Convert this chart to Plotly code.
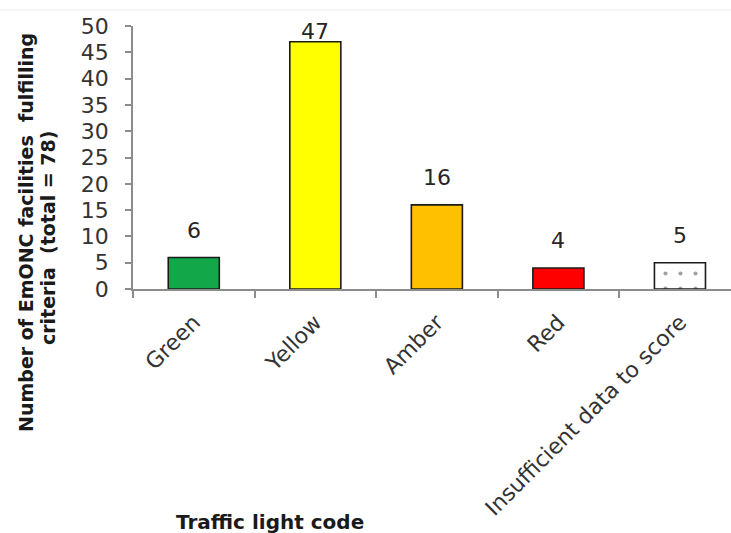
import plotly.graph_objects as go

categories = ["Green", "Yellow", "Amber", "Red", "Insufficient data to score"]
counts = [6, 47, 16, 4, 5]
bar_colors = ["#12a84a", "#ffff00", "#ffc000", "#ff0000", "#ffffff"]
bar_patterns = ["", "", "", "", "."]
y_ticks = list(range(0, 51, 5))

FONT = "DejaVu Sans"
AXIS_GREY = "#8c8c8c"

fig = go.Figure()
fig.add_trace(go.Bar(
    x=categories,
    y=counts,
    width=0.42,
    marker=dict(
        color=bar_colors,
        line=dict(color="#1a1a1a", width=1.6),
        pattern=dict(shape=bar_patterns, fgcolor="#8fa8c4", size=15, solidity=0.06),
    ),
    hoverinfo="skip",
))

# value labels above each bar; the tallest one is kept inside the top of the plot
for cat, v in zip(categories, counts):
    shift = 27 if v + 5.2 <= 50 else 10
    fig.add_annotation(
        x=cat, y=v, text=str(v), showarrow=False, yshift=shift,
        font=dict(family=FONT, size=22, color="#262626"),
    )

# y-axis title in two lines
fig.add_annotation(
    xref="paper", yref="paper", x=-0.179, y=0.217, text="<b>Number of EmONC facilities  fulfilling</b>",
    textangle=-90, showarrow=False, xanchor="center", yanchor="middle",
    font=dict(family=FONT, size=19, color="#1a1a1a"),
)
fig.add_annotation(
    xref="paper", yref="paper", x=-0.142, y=0.194, text="<b>criteria  (total = 78)</b>",
    textangle=-90, showarrow=False, xanchor="center", yanchor="middle",
    font=dict(family=FONT, size=19, color="#1a1a1a"),
)
# x-axis title
fig.add_annotation(
    xref="paper", yref="paper", x=0.229, y=-0.886, text="<b>Traffic light code</b>",
    showarrow=False, xanchor="center", yanchor="middle",
    font=dict(family=FONT, size=20, color="#1a1a1a"),
)

# faint rule across the top of the figure
fig.add_shape(type="line", xref="paper", yref="paper", x0=-0.23, x1=1.0, y0=1.061, y1=1.061,
              line=dict(color="#f0f0f0", width=1.5))

fig.update_layout(
    width=731, height=533,
    margin=dict(l=133, r=0, t=26, b=244),
    plot_bgcolor="white", paper_bgcolor="white",
    showlegend=False,
    xaxis=dict(
        range=[-0.5, 4.42],
        showline=True, linecolor=AXIS_GREY, linewidth=1.5,
        ticks="outside", tickson="boundaries", ticklen=7, tickcolor=AXIS_GREY, tickwidth=1.5,
        tickangle=-45,
        ticklabelstandoff=10,
        tickfont=dict(family=FONT, size=22, color="#333333"),
        showgrid=False, zeroline=False, fixedrange=True,
    ),
    yaxis=dict(
        range=[0, 50],
        tickvals=y_ticks,
        showline=True, linecolor=AXIS_GREY, linewidth=1.5,
        ticks="outside", ticklen=6, tickcolor=AXIS_GREY, tickwidth=1.5,
        ticklabelstandoff=12,
        tickfont=dict(family=FONT, size=22, color="#333333"),
        showgrid=False, zeroline=False, fixedrange=True,
    ),
)

fig.write_html("out.html")
